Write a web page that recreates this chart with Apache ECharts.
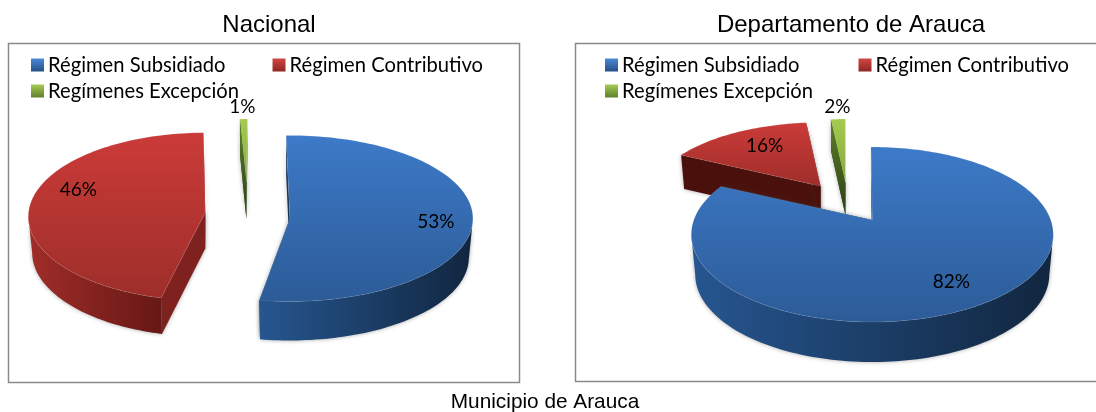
<!DOCTYPE html>
<html><head><meta charset="utf-8">
<style>html,body{margin:0;padding:0;background:#fff}#c{width:1096px;height:412px}</style>
<script src="https://cdn.jsdelivr.net/npm/echarts@6/dist/echarts.min.js"></script>
</head><body><div id="c"></div>
<script>
const categories = ['Régimen Subsidiado','Régimen Contributivo','Regímenes Excepción'];
const nacional = [53,46,1];
const arauca = [82,16,2];
const chartTitles = ['Nacional','Departamento de Arauca','Municipio de Arauca'];

const FLAT = 0.48;
const TAPER = 0.978; // the lower rim is slightly narrower than the upper one
// Per-slice rendering geometry: explode distance, radii, perspective offset, depth, small angle shift, label offset
const pies = [
 {values:nacional, center:[248,217], slices:[
   {e:42,rx:183,ry:83,k:0,d:39,shift:-1.2,lab:[146,3]},
   {e:43,rx:177,ry:84,k:.05,d:36,shift:3,dy:2,lab:[-127,-23]},
   {e:71,rx:120,ry:64,k:0,d:36,shift:.5,lab:[-4,-76]}], order:[0,1,2]},
 {values:arauca, center:[850,218], slices:[
   {e:41,rx:181,ry:87.5,k:.166,d:40,shift:-.5,lab:[79,62]},
   {e:52,rx:169,ry:75,k:.15,d:34,shift:1.5,lab:[-56,-40]},
   {e:73,rx:116,ry:64,k:0,d:32,shift:0,lab:[-8,-76]}], order:[1,2,0]}
];
const palette = [
 {top:['#3d7ac8','#2c5b97'],outer:['#265690','#11263f'],cut:'#173658',swatch:['#4a8ad6','#254f85']},
 {top:['#cb3b38','#9e2e2a'],outer:['#a02d29','#661815'],cut:'#7f211e',swatch:['#d04744','#8e2623']},
 {top:['#a6cb50','#84a83e'],outer:['#6e8f35','#4d6a25'],cut:'#35501a',swatch:['#a6cb50','#5f7f2c']}
];
const palette2Cut = ['#173658','#4a100c','#35501a'];

const vGrad=(a,b)=>({type:'linear',x:0,y:0,x2:0,y2:1,colorStops:[{offset:0,color:a},{offset:1,color:b}]});
const hGrad=(a,b)=>({type:'linear',x:0,y:0,x2:1,y2:0,colorStops:[{offset:0,color:a},{offset:1,color:b}]});
const rad=d=>d*Math.PI/180;

function makeRender(pie, idx){
  const total = pie.values.reduce((a,b)=>a+b,0);
  let acc = 0;
  const from = pie.values.map(v=>{const s=acc;acc+=v/total*360;return s;});
  const s = pie.slices[idx], pal = palette[idx];
  return function(params, api){
    const val = api.value(0);
    const a0 = from[idx]+s.shift, a1 = a0+val/total*360;
    const mid = rad((a0+a1)/2);
    const ex = pie.center[0]+s.e*Math.sin(mid);
    const ey = pie.center[1]+(s.dy||0)-s.e*FLAT*Math.cos(mid);
    const rim = th=>{
      const t=rad(th), c=Math.cos(t), sn=Math.sin(t);
      const r=-s.k*c+Math.sqrt(s.k*s.k*c*c-s.k*s.k+1);
      return [ex+s.rx*r*sn, ey-s.ry*(s.k+r*c)];
    };
    const apex=[ex,ey-s.ry*s.k];
    const arc=[];
    const n=Math.max(2,Math.ceil((a1-a0)/1.5));
    for(let i=0;i<=n;i++) arc.push(rim(a0+(a1-a0)*i/n));
    const down=p=>[ex+(p[0]-ex)*TAPER,p[1]+s.d];
    const shadow={shadowBlur:4,shadowColor:'rgba(60,60,60,0.45)'};
    const cutCol = pie===pies[1]?palette2Cut[idx]:pal.cut;
    const poly=(pts,fill,extra)=>({type:'polygon',shape:{points:pts},style:Object.assign({fill:fill},extra||{})});
    const kids=[
      poly([arc[0],apex,down(apex),down(arc[0])],cutCol,shadow),
      poly([arc[n],apex,down(apex),down(arc[n])],cutCol,shadow)
    ];
    // the outer wall shows only along the front half of the rim
    const front=arc.filter(p=>p[1]>=ey);
    if(front.length>1) kids.push(poly(front.concat(front.map(down).reverse()),hGrad(pal.outer[0],pal.outer[1]),shadow));
    kids.push(poly(arc.concat([apex]),vGrad(pal.top[0],pal.top[1]),{stroke:'rgba(255,255,255,0.10)',lineWidth:1}));
    // a radial wall that lies over the top face (thin wedge seen nearly edge-on)
    if(idx===2) kids.push(poly([arc[0],apex,down(apex),down(arc[0])],vGrad('#5f7f2c','#2a3f12')));
    kids.push({type:'text',z2:50,style:{
      text:Math.round(val)+'%',x:apex[0]+s.lab[0],y:apex[1]+s.lab[1],align:'center',verticalAlign:'middle',
      font:'19px Lato',fill:'#000'}});
    return {type:'group',children:kids};
  };
}

const series=[];
pies.forEach((pie,pi)=>{
  pie.order.forEach((idx,o)=>{
    series.push({type:'custom',name:categories[idx],coordinateSystem:'none',silent:true,clip:false,
      z:5+o,data:[[pie.values[idx]]],renderItem:makeRender(pie,idx),
      itemStyle:{color:palette[idx].top[0]}});
  });
});

const legendItem=i=>({name:categories[i],icon:'rect',itemStyle:{color:vGrad(palette[i].swatch[0],palette[i].swatch[1])}});
const legendBase={selectedMode:false,orient:'horizontal',itemWidth:13,itemHeight:13,padding:0,
  textStyle:{fontFamily:'Lato',fontSize:20.2,color:'#000',padding:[0,0,2,-1]}};
const legends=[
 Object.assign({},legendBase,{left:31,top:55,itemGap:47,data:[0,1].map(legendItem)}),
 Object.assign({},legendBase,{left:31,top:81,data:[2].map(legendItem)}),
 Object.assign({},legendBase,{left:605,top:55,itemGap:59,data:[0,1].map(legendItem)}),
 Object.assign({},legendBase,{left:605,top:81,data:[2].map(legendItem)})
];

const titleBase=(t,fs)=>({text:t,textAlign:'center',textVerticalAlign:'middle',padding:0,
  textStyle:{fontFamily:'Liberation Sans',fontSize:fs,fontWeight:'normal',color:'#000'}});
const titles=[
 Object.assign(titleBase(chartTitles[0],24),{left:269,top:25}),
 Object.assign(titleBase(chartTitles[1],24),{left:851,top:25}),
 Object.assign(titleBase(chartTitles[2],20.8),{left:545,top:402})
];

const chart=echarts.init(document.getElementById('c'),null,{renderer:'canvas'});
chart.setOption({
  animation:false,backgroundColor:'#fff',title:titles,legend:legends,series:series,
  graphic:[
    {type:'rect',z:0,shape:{x:8.5,y:43.5,width:511,height:339},style:{fill:'#fff',stroke:'#8a8a8a',lineWidth:1.5}},
    {type:'rect',z:0,shape:{x:575.5,y:43.5,width:540,height:338},style:{fill:'#fff',stroke:'#8a8a8a',lineWidth:1.5}}
  ]
});
</script></body></html>
